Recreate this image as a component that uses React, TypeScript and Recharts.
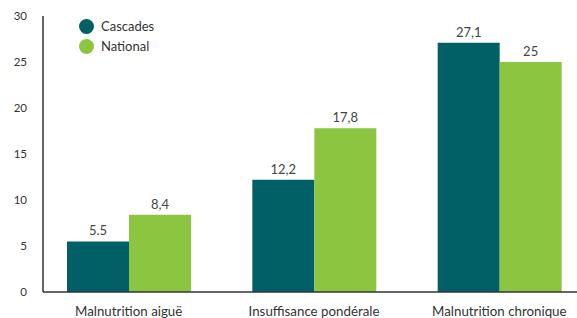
import { BarChart, Bar, XAxis, YAxis, LabelList } from 'recharts'

const categories = ['Malnutrition aiguë', 'Insuffisance pondérale', 'Malnutrition chronique']
const cascades = [5.5, 12.2, 27.1]
const national = [8.4, 17.8, 25]
const cascadesLabels = ['5.5', '12,2', '27,1']
const nationalLabels = ['8,4', '17,8', '25']
const yTicks = [0, 5, 10, 15, 20, 25, 30]

const TEAL = '#016066'
const GREEN = '#8cc540'
const FONT = 'Lato, "Open Sans", sans-serif'

const data = categories.map((name, i) => ({
  name,
  cascades: cascades[i],
  national: national[i],
  cLabel: cascadesLabels[i],
  nLabel: nationalLabels[i],
}))

// legend drawn on top of the chart so it doesn't eat plot space
function LegendBox() {
  const items = [
    { label: 'Cascades', color: TEAL },
    { label: 'National', color: GREEN },
  ]
  return (
    <div style={{ position: 'absolute', left: 79, top: 16, fontFamily: FONT, fontSize: 13, color: '#333' }}>
      {items.map(it => (
        <div key={it.label} style={{ display: 'flex', alignItems: 'center', height: 20 }}>
          <span
            style={{
              width: 15,
              height: 15,
              borderRadius: '50%',
              background: it.color,
              display: 'inline-block',
              marginRight: 7,
            }}
          />
          {it.label}
        </div>
      ))}
    </div>
  )
}

export default function App() {
  return (
    <div style={{ position: 'absolute', left: 0, top: 0, width: 577, height: 318, overflow: 'hidden', background: '#fff' }}>
      <BarChart
        width={592}
        height={318}
        data={data}
        margin={{ top: 16, right: 0, bottom: 0, left: 0 }}
        barGap={0}
        barSize={62}
      >
        <XAxis
          dataKey="name"
          padding={{ left: -7, right: 0 }}
          tickLine={false}
          tickSize={0}
          tickMargin={15}
          height={26}
          axisLine={{ stroke: '#333', strokeWidth: 1.5 }}
          tick={{ fontSize: 13.3, fill: '#333', fontFamily: FONT }}
        />
        <YAxis
          domain={[0, 30]}
          ticks={yTicks}
          width={43}
          tickLine={false}
          tickSize={0}
          tickMargin={16}
          axisLine={{ stroke: '#333', strokeWidth: 1.5 }}
          tick={{ fontSize: 11.5, fill: '#333', fontFamily: FONT }}
        />
        <Bar dataKey="cascades" fill={TEAL} isAnimationActive={false}>
          <LabelList dataKey="cLabel" position="top" offset={6} style={{ fontSize: 13, fill: '#444', fontFamily: FONT }} />
        </Bar>
        <Bar dataKey="national" fill={GREEN} isAnimationActive={false}>
          <LabelList dataKey="nLabel" position="top" offset={6} style={{ fontSize: 13, fill: '#444', fontFamily: FONT }} />
        </Bar>
      </BarChart>
      <LegendBox />
    </div>
  )
}
